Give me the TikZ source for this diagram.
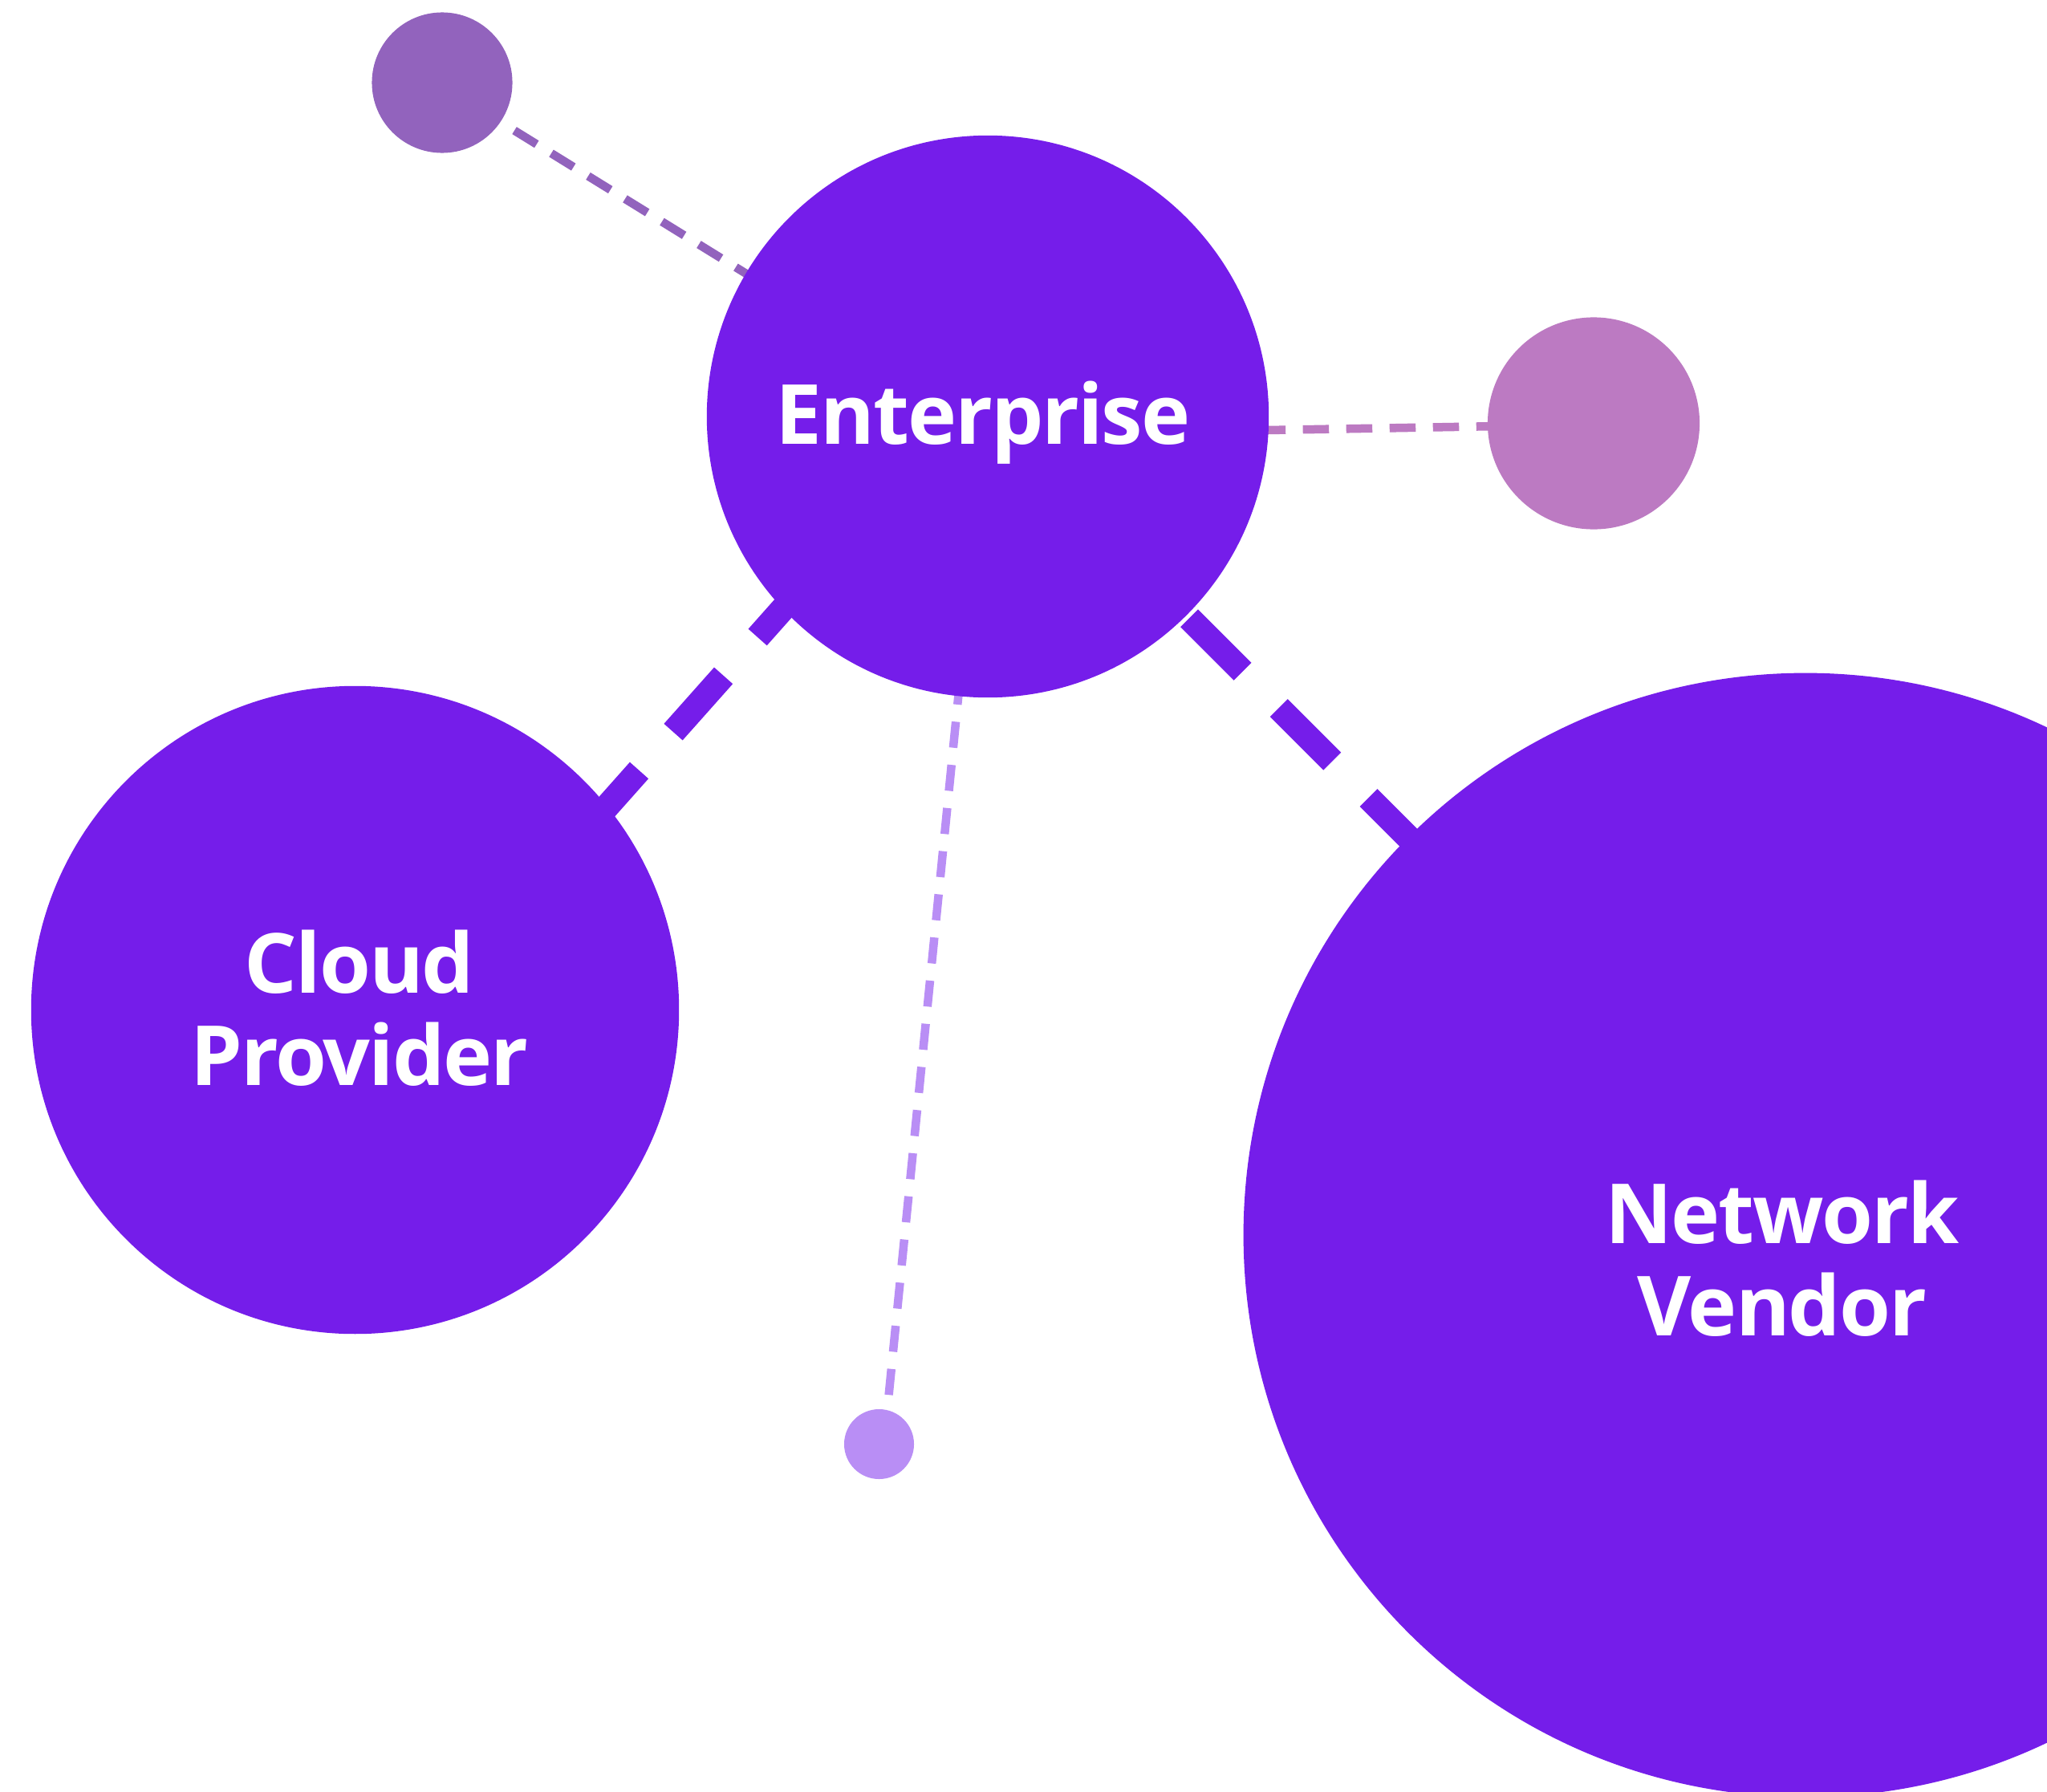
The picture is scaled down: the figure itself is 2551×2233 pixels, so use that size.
\documentclass[tikz,border=0pt]{standalone}
\usepackage{fontspec}
\setmainfont{Open Sans}[LetterSpace=-2]
\usetikzlibrary{calc}
\pgfdeclarelayer{bg}
\pgfsetlayers{bg,main}
\definecolor{mainc}{HTML}{751DEA}
\definecolor{tlc}{HTML}{9263BD}
\definecolor{pinkc}{HTML}{BC7AC2}
\definecolor{botc}{HTML}{B98EF5}
\begin{document}
\begin{tikzpicture}[x=0.01cm,y=-0.01cm,
  bubble/.style={circle, draw=none, inner sep=0pt, outer sep=0pt},
  lbl/.style={text=white, font=\fontsize{29.4pt}{32.8pt}\selectfont\bfseries, align=center, inner sep=0pt},
  thinlink/.style={line width=0.105cm, dash pattern=on 0.325cm off 0.215cm},
  thicklink/.style={line width=0.31cm, dash pattern=on 0.94cm off 0.64cm, draw=mainc}]
\useasboundingbox (0,0) rectangle (2551,2233);
\clip (0,0) rectangle (2551,2233);
\node[bubble, fill=tlc, minimum size=1.75cm] (tl) at (551,103) {};
\node[bubble, fill=mainc, minimum size=7cm] (ent) at (1231,519) {};
\node[bubble, fill=pinkc, minimum size=2.64cm] (pink) at (1986,527.5) {};
\node[bubble, fill=mainc, minimum size=8.07cm] (cloud) at (442.5,1258.5) {};
\node[bubble, fill=mainc, minimum size=14cm] (net) at (2250,1539) {};
\node[bubble, fill=botc, minimum size=0.87cm] (bot) at (1095.5,1799.5) {};
\node[lbl, anchor=base] (entT) at (1225,553) {Enterprise};
\node[lbl] (cloudT) at (448,1256) {Cloud\\Provider};
\node[lbl] (netT) at (2221,1568) {Network\\Vendor};
\begin{pgfonlayer}{bg}
\draw[thinlink, draw=tlc, dash phase=0.022cm] ($(tl)+(0,4)$) -- ($(ent)+(0,8)$);
\draw[thinlink, draw=pinkc, dash phase=0.395cm] ($(ent)+(0,23)$) -- ($(pink)+(0,1.5)$);
\draw[thicklink, dash phase=1.366cm] ($(ent)+(0,-47.5)$) -- ($(cloud)+(0,99.5)$);
\draw[thicklink, dash phase=1.19cm] (ent.center) -- (net.center);
\draw[thinlink, draw=botc, dash phase=0.5cm] ($(ent)+(-2,0)$) -- ($(bot)+(6,0)$);
\end{pgfonlayer}
\end{tikzpicture}
\end{document}
